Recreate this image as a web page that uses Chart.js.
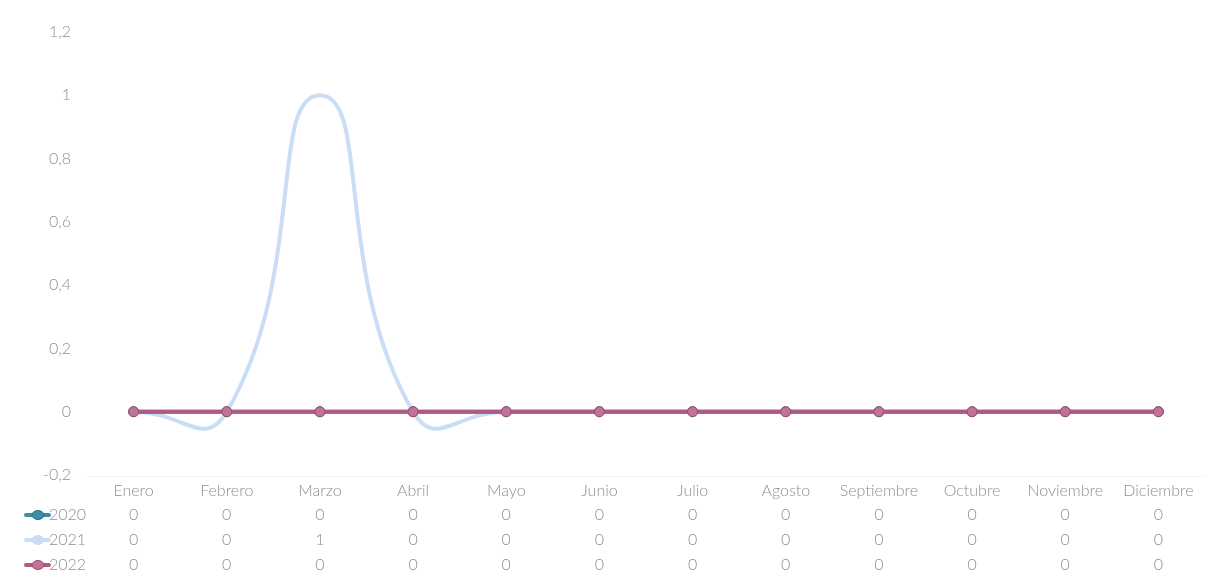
<!DOCTYPE html>
<html>
<head>
<meta charset="utf-8">
<script src="https://cdn.jsdelivr.net/npm/chart.js@4"></script>
<style>
  html, body { margin: 0; padding: 0; background: #ffffff; }
  #wrap { width: 1206px; height: 577px; position: relative; }
</style>
</head>
<body>
<div id="wrap"><canvas id="c" width="1206" height="577"></canvas></div>
<script>
const months = ['Enero','Febrero','Marzo','Abril','Mayo','Junio','Julio','Agosto','Septiembre','Octubre','Noviembre','Diciembre'];
const seriesNames = ['2020','2021','2022'];
const values2020 = [0,0,0,0,0,0,0,0,0,0,0,0];
const values2021 = [0,0,1,0,0,0,0,0,0,0,0,0];
const values2022 = [0,0,0,0,0,0,0,0,0,0,0,0];
const yMin = -0.2, yMax = 1.2, yStep = 0.2;

const colors = {
  '2020': { line: '#3a8fa6', point: '#3a8fa6', border: '#2b7088' },
  '2021': { line: '#c9def6', point: '#c9def6', border: '#c9def6' },
  '2022': { line: '#b05a86', point: '#c17298', border: '#9a4a74' }
};
const textColor = '#8f8f8f';
const fontFamily = 'Lato, "Open Sans", sans-serif';
const fontSize = 16;
const fontWeight = 300;

const fmt = v => {
  const r = Math.round(v * 10) / 10;
  return String(r).replace('.', ',');
};

const tablePlugin = {
  id: 'dataTable',
  afterDraw(chart) {
    const ctx = chart.ctx;
    const xs = chart.scales.x;
    const rows = [values2020, values2021, values2022];
    const rowY = [515, 540, 565];
    ctx.save();
    ctx.font = fontWeight + ' ' + fontSize + 'px ' + fontFamily;
    ctx.textBaseline = 'middle';
    rows.forEach((vals, r) => {
      const name = seriesNames[r];
      const c = colors[name];
      const y = rowY[r];
      ctx.strokeStyle = c.line;
      ctx.lineWidth = 4;
      ctx.lineCap = 'round';
      ctx.beginPath();
      ctx.moveTo(26, y);
      ctx.lineTo(49, y);
      ctx.stroke();
      ctx.fillStyle = c.point;
      ctx.strokeStyle = c.border;
      ctx.lineWidth = 1;
      ctx.beginPath();
      ctx.ellipse(38, y, 6, 4.5, 0, 0, Math.PI * 2);
      ctx.fill();
      ctx.stroke();
      ctx.fillStyle = textColor;
      ctx.textAlign = 'left';
      ctx.fillText(name, 49, y);
      ctx.textAlign = 'center';
      vals.forEach((v, i) => {
        ctx.fillText(fmt(v), xs.getPixelForValue(i), y);
      });
    });
    ctx.strokeStyle = '#f3f3f3';
    ctx.lineWidth = 1;
    ctx.beginPath();
    ctx.moveTo(chart.chartArea.left, chart.chartArea.bottom + 1.5);
    ctx.lineTo(chart.chartArea.right, chart.chartArea.bottom + 1.5);
    ctx.stroke();
    ctx.restore();
  }
};

function ds(name, data, order, showPoints, tension) {
  const c = colors[name];
  return {
    label: name,
    data: data,
    borderColor: c.line,
    backgroundColor: c.point,
    pointBackgroundColor: c.point,
    pointBorderColor: c.border,
    pointBorderWidth: 1,
    pointRadius: showPoints ? 5 : 0,
    borderWidth: 4,
    tension: tension,
    order: order,
    clip: false
  };
}

new Chart(document.getElementById('c'), {
  type: 'line',
  data: {
    labels: months,
    datasets: [
      ds('2021', values2021, 3, false, 0.55),
      ds('2020', values2020, 2, true, 0),
      ds('2022', values2022, 1, true, 0)
    ]
  },
  options: {
    responsive: false,
    animation: false,
    devicePixelRatio: 1,
    elements: { line: { capBezierPoints: false } },
    layout: { autoPadding: false, padding: { top: 32, right: 1, bottom: 0, left: 0 } },
    plugins: {
      legend: { display: false },
      tooltip: { enabled: false }
    },
    scales: {
      x: {
        offset: true,
        grid: { display: false, drawTicks: false },
        border: { display: false },
        ticks: {
          color: textColor,
          font: { family: fontFamily, size: fontSize, weight: fontWeight },
          padding: 6,
          maxRotation: 0,
          autoSkip: false
        },
        afterFit(scale) { scale.height = 102; }
      },
      y: {
        min: yMin,
        max: yMax,
        grid: { display: false, drawTicks: false },
        border: { display: false },
        ticks: {
          stepSize: yStep,
          color: textColor,
          font: { family: fontFamily, size: fontSize, weight: fontWeight },
          padding: 16,
          callback: v => fmt(v)
        },
        afterFit(scale) { scale.width = 87; }
      }
    }
  },
  plugins: [tablePlugin]
});
</script>
</body>
</html>
